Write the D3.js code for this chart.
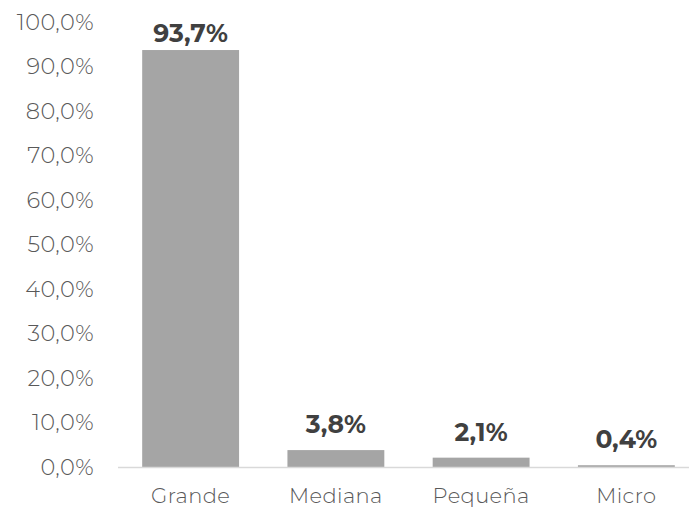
<!DOCTYPE html>
<html><head><meta charset="utf-8">
<script src="https://cdn.jsdelivr.net/npm/d3@7"></script>
<style>body{margin:0;background:#fff}svg{display:block}</style>
</head><body>
<svg id="c" width="689" height="508"></svg>
<script>
const categories = ["Grande", "Mediana", "Pequeña", "Micro"];
const values = [93.7, 3.8, 2.1, 0.4];
const yTicks = [0, 10, 20, 30, 40, 50, 60, 70, 80, 90, 100];

const svg = d3.select("#c");
const font = "Montserrat, 'Noto Sans', 'DejaVu Sans', sans-serif";
const fmt = v => v.toFixed(1).replace(".", ",") + "%";

const x = d3.scaleBand().domain(categories).range([118, 699]).paddingInner(0.333).paddingOuter(0.1665);
const y = d3.scaleLinear().domain([0, 100]).range([467, 22]);

// y tick labels
svg.append("g").selectAll("text").data(yTicks).join("text")
  .attr("x", 94).attr("y", d => y(d)).attr("dy", "0.35em")
  .attr("text-anchor", "end")
  .attr("font-family", font).attr("font-size", 22.5).attr("font-weight", 300)
  .attr("letter-spacing", 0.4).attr("fill", "#595959")
  .text(d => fmt(d));

// bars
svg.append("g").selectAll("rect").data(values).join("rect")
  .attr("x", (d, i) => x(categories[i]))
  .attr("width", x.bandwidth())
  .attr("y", d => y(d))
  .attr("height", d => y(0) - y(d))
  .attr("fill", "#a5a5a5");

// axis line
svg.append("line").attr("x1", 118).attr("x2", 699).attr("y1", y(0) + 0.5).attr("y2", y(0) + 0.5)
  .attr("stroke", "#d9d9d9").attr("stroke-width", 1.5);

// category labels
svg.append("g").selectAll("text").data(categories).join("text")
  .attr("x", d => x(d) + x.bandwidth() / 2).attr("y", 503)
  .attr("text-anchor", "middle")
  .attr("font-family", font).attr("font-size", 21).attr("font-weight", 300)
  .attr("letter-spacing", 0.4).attr("fill", "#595959")
  .text(d => d);

// value labels
svg.append("g").selectAll("text").data(values).join("text")
  .attr("x", (d, i) => x(categories[i]) + x.bandwidth() / 2)
  .attr("y", d => Math.max(y(d) - 17, 42))
  .attr("text-anchor", "middle")
  .attr("font-family", font).attr("font-size", 25).attr("font-weight", "bold")
  .attr("letter-spacing", 0.1).attr("fill", "#404040")
  .text(d => fmt(d));
</script>
</body></html>
